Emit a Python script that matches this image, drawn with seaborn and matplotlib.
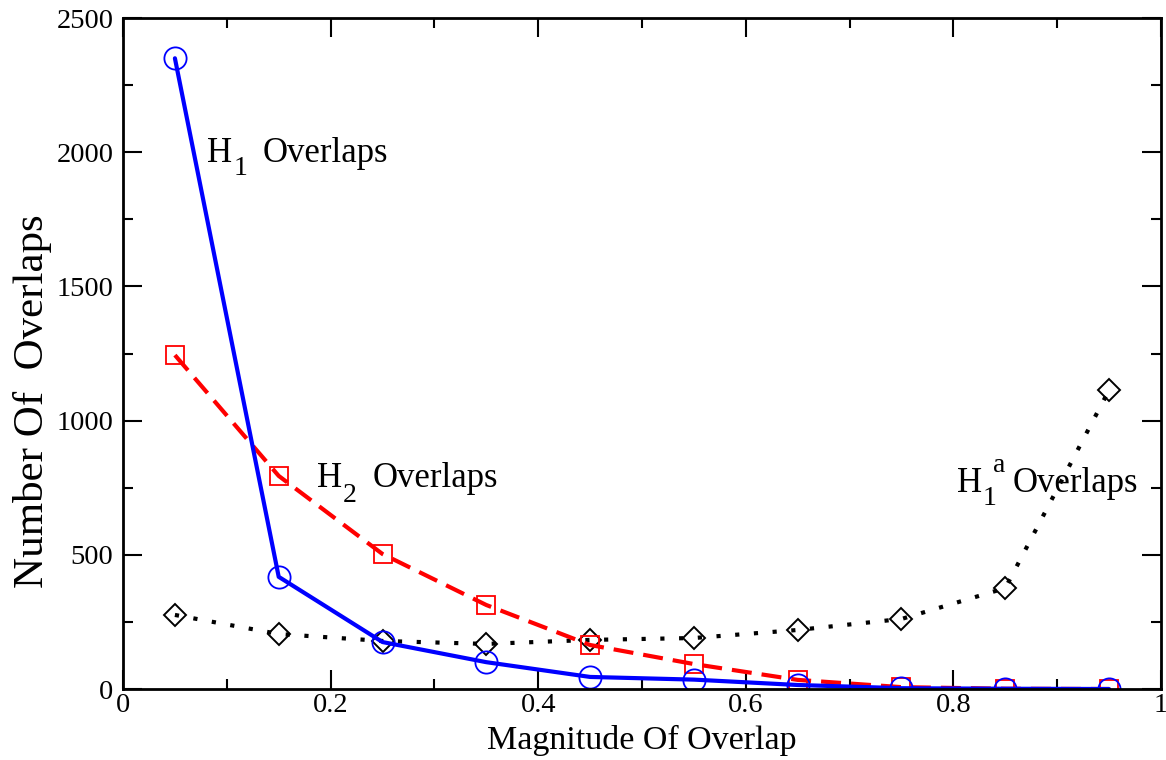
import matplotlib
matplotlib.use("Agg")
import matplotlib.pyplot as plt
import seaborn as sns
import pandas as pd
from matplotlib.ticker import MultipleLocator, FixedLocator

magnitude = [0.05, 0.15, 0.25, 0.35, 0.45, 0.55, 0.65, 0.75, 0.85, 0.95]
h1_overlaps = [2350, 418, 175, 100, 45, 35, 15, 3, 1, 0]
h2_overlaps = [1244, 794, 503, 313, 164, 93, 34, 7, 1, 0]
h1a_overlaps = [276, 205, 179, 168, 183, 190, 220, 261, 376, 1114]

xticks = [0, 0.2, 0.4, 0.6, 0.8, 1.0]
xticklabels = ["0", "0.2", "0.4", "0.6", "0.8", "1"]
yticks = [0, 500, 1000, 1500, 2000, 2500]
yticklabels = ["0", "500", "1000", "1500", "2000", "2500"]

sns.set_theme(style="ticks")
plt.rcParams["font.family"] = ["Liberation Serif", "DejaVu Serif"]

fig = plt.figure(figsize=(11.66, 7.6), dpi=100)
ax = fig.add_axes([0.1055, 0.0934, 0.8902, 0.8829])

df = pd.DataFrame({"x": magnitude, "h1": h1_overlaps, "h2": h2_overlaps, "h1a": h1a_overlaps})

sns.lineplot(data=df, x="x", y="h1a", ax=ax, color="black", linewidth=3,
             linestyle=(0, (1, 3.5)), marker="D", markersize=11.5,
             markerfacecolor="none", markeredgecolor="black", markeredgewidth=1.4)
sns.lineplot(data=df, x="x", y="h2", ax=ax, color="red", linewidth=3,
             linestyle=(0, (4.8, 2.4)), marker="s", markersize=13,
             markerfacecolor="none", markeredgecolor="red", markeredgewidth=1.3)
sns.lineplot(data=df, x="x", y="h1", ax=ax, color="blue", linewidth=3,
             linestyle="-", marker="o", markersize=16,
             markerfacecolor="none", markeredgecolor="blue", markeredgewidth=1.3)

ax.set_xlim(0, 1)
ax.set_ylim(0, 2500)
ax.xaxis.set_major_locator(FixedLocator(xticks))
ax.set_xticklabels(xticklabels)
ax.yaxis.set_major_locator(FixedLocator(yticks))
ax.set_yticklabels(yticklabels)
ax.xaxis.set_minor_locator(MultipleLocator(0.1))
ax.yaxis.set_minor_locator(MultipleLocator(250))
ax.tick_params(which="both", direction="in", top=True, right=True, width=1.5, color="black",
               labelsize=20.5, labelcolor="black")
ax.tick_params(which="major", length=14)
ax.tick_params(which="minor", length=7)
ax.tick_params(axis="x", which="major", pad=3)
ax.tick_params(axis="y", which="major", pad=7)
for s in ax.spines.values():
    s.set_visible(True)
    s.set_linewidth(2)
    s.set_color("black")

ax.set_xlabel("Magnitude Of Overlap", fontsize=24.5, color="black")
ax.xaxis.set_label_coords(0.5, -0.053)
ax.set_ylabel("Number Of  Overlaps", fontsize=31, color="black")
ax.yaxis.set_label_coords(-0.068, 0.429)


def label(x, y, sub, sup=None, sub_dx=27, sub_dy=-13, sup_dx=36, sup_dy=20):
    k = 0.72  # px -> pt at 100 dpi
    ax.annotate("H", (x, y), xytext=(0, 0), textcoords="offset points",
                fontsize=25, ha="left", va="baseline", color="black")
    ax.annotate(sub, (x, y), xytext=(sub_dx * k, sub_dy * k), textcoords="offset points",
                fontsize=20, ha="left", va="baseline", color="black")
    if sup:
        ax.annotate(sup, (x, y), xytext=(sup_dx * k, sup_dy * k), textcoords="offset points",
                    fontsize=20, ha="left", va="baseline", color="black")
    ax.annotate("Overlaps", (x, y), xytext=(56 * k, 0), textcoords="offset points",
                fontsize=25, ha="left", va="baseline", color="black")


label(0.0809, 1963, "1")
label(0.1869, 752, "2", sub_dx=26, sub_dy=-15)
label(0.8035, 734, "1", sup="a", sub_dx=26)

fig.savefig("out.png", dpi=100)
